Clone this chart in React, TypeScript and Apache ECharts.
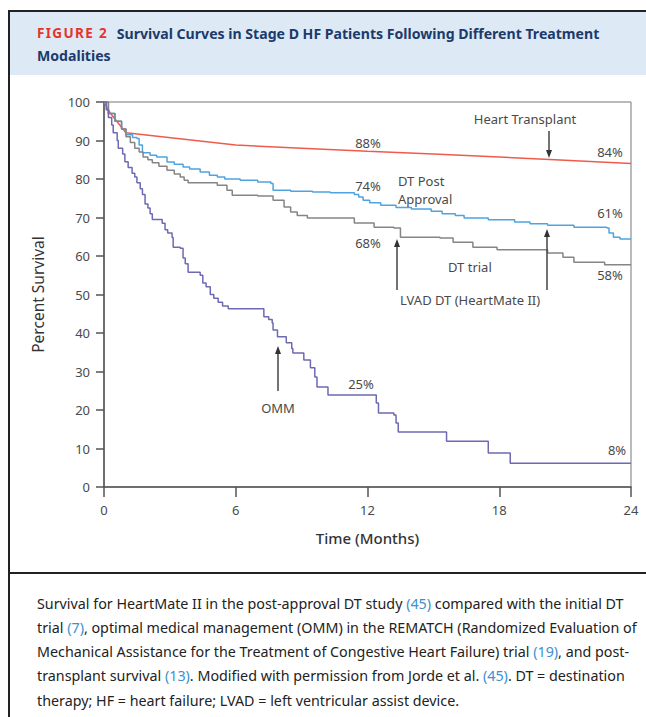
import React, { useEffect, useRef } from "react";
import * as echarts from "echarts";

// ---- Data (months, percent survival); step curves: value holds from its time until the next point ----
const xTicks = [0, 6, 12, 18, 24];
const yTicks = [0, 10, 20, 30, 40, 50, 60, 70, 80, 90, 100];

const heartTransplant: [number, number][] = [
  [0, 100], [0.3, 97], [1, 92], [6, 88.8], [9, 88], [12, 87.2], [15, 86.5], [18, 85.7], [21, 84.9], [24, 84],
];

const dtPostApproval: [number, number][] = [
  [0, 100], [0.2, 97], [0.5, 95], [0.8, 93], [1.0, 91.5], [1.3, 90.8], [1.5, 90.5], [1.6, 88.8], [1.75, 86.8],
  [2.1, 86.2], [2.4, 85.7], [2.87, 84.4], [3.2, 83.8], [3.6, 83.1], [3.9, 82.6], [4.38, 81.8], [4.8, 81],
  [5.16, 80.5], [5.5, 80], [6.2, 79.7], [7.0, 79.2], [7.6, 78.8], [7.7, 77.1], [8.5, 76.8], [9.5, 76.6],
  [10.3, 76.4], [11.4, 76], [11.6, 75.3], [11.8, 74.5], [12.1, 73.8], [12.6, 73.2], [13.3, 72.6], [14.0, 72.2],
  [14.9, 71.6], [15.4, 71], [16, 70.5], [16.4, 69.9], [17.5, 69.4], [18.7, 68.8], [19.4, 68.4], [20.2, 68],
  [21.4, 67.5], [22.9, 67.3], [23.0, 66], [23.2, 64.9], [23.5, 64.4], [24, 64.4],
];

const dtTrial: [number, number][] = [
  [0, 100], [0.2, 97], [0.5, 95], [0.8, 93], [1.0, 91], [1.2, 89.5], [1.4, 88], [1.6, 87], [1.78, 85.7],
  [2.0, 85], [2.2, 84.2], [2.5, 83.3], [2.87, 82.3], [3.2, 81.3], [3.47, 80.5], [3.65, 79.7], [3.83, 79],
  [5.16, 78.4], [5.6, 77.1], [5.84, 75.8], [7.0, 75.6], [7.7, 74.5], [8.2, 72.7], [8.5, 71.4], [8.8, 70.5],
  [9.26, 69.9], [11.4, 68.6], [12.3, 67.5], [13.2, 67.3], [13.5, 64.9], [15.3, 64.7], [15.9, 63.6],
  [16.8, 62.3], [17.9, 61.6], [20.2, 60.8], [20.9, 59.7], [21.4, 58.4], [22.8, 57.7], [24, 57.7],
];

const omm: [number, number][] = [
  [0, 100], [0.1, 98], [0.2, 96], [0.35, 94], [0.42, 92], [0.6, 90], [0.65, 88], [0.85, 86.5], [0.95, 84.5],
  [1.1, 83], [1.28, 81.5], [1.4, 80.5], [1.5, 79], [1.65, 77.5], [1.75, 76], [1.87, 73.5], [2.0, 72.5],
  [2.1, 71], [2.2, 69.5], [2.65, 68.5], [2.78, 66.8], [2.9, 66], [3.1, 64.8], [3.15, 62.3], [3.47, 62],
  [3.6, 59.5], [3.7, 58], [3.83, 55.8], [4.38, 55], [4.5, 53], [4.65, 52], [4.84, 50], [5.0, 49], [5.2, 48],
  [5.4, 47], [5.66, 46.3], [7.28, 44.2], [7.5, 43.5], [7.66, 42.6], [7.7, 40.8], [7.9, 39], [8.3, 37.5],
  [8.55, 36], [8.6, 34.8], [9.1, 33], [9.4, 31], [9.6, 28.6], [9.7, 26], [10.2, 23.9], [12.4, 21.8],
  [12.5, 19.2], [13.2, 18.7], [13.3, 16.6], [13.4, 14.3], [15.6, 11.9], [17.5, 8.8], [18.5, 6.2], [24, 6.2],
];

const seriesNames = ["Heart Transplant", "DT Post Approval", "DT trial", "OMM"];

const captionLines: string[] = [
  "Survival for HeartMate II in the post-approval DT study {r|(45)} compared with the initial DT",
  "trial {r|(7)}, optimal medical management (OMM) in the REMATCH (Randomized Evaluation of",
  "Mechanical Assistance for the Treatment of Congestive Heart Failure) trial {r|(19)}, and post-",
  "transplant survival {r|(13)}. Modified with permission from Jorde et al. {r|(45)}. DT = destination",
  "therapy; HF = heart failure; LVAD = left ventricular assist device.",
];

const FONT = "'Noto Sans', 'Open Sans', sans-serif";
const LABEL = "#4a4a4a";
const HS = "\u200A";

function txt(text: string, x: number, y: number, align: string = "center", size = 13) {
  return {
    type: "text",
    x,
    y,
    z: 10,
    style: { text, fill: LABEL, fontSize: size, fontFamily: FONT, align, verticalAlign: "middle" },
  };
}

function arrow(x: number, y1: number, y2: number) {
  const dir = y2 > y1 ? 1 : -1;
  return [
    { type: "line", z: 10, shape: { x1: x, y1, x2: x, y2: y2 - dir * 6 }, style: { stroke: "#444", lineWidth: 1.5 } },
    {
      type: "polygon",
      z: 10,
      shape: { points: [[x - 3, y2 - dir * 8], [x + 3, y2 - dir * 8], [x, y2]] },
      style: { fill: "#333" },
    },
  ];
}

export default function App() {
  const ref = useRef<HTMLDivElement>(null);
  useEffect(() => {
    if (!ref.current) return;
    const chart = echarts.init(ref.current, undefined, { renderer: "svg" });
    const lineSeries = (name: string, data: [number, number][], color: string, step: any) => ({
      name,
      type: "line",
      data,
      step,
      symbol: "none",
      lineStyle: { color, width: 1.5 },
      z: 3,
    });
    chart.setOption({
      animation: false,
      backgroundColor: "#ffffff",
      grid: { left: 104, top: 102, right: 15, bottom: 230, show: true, borderColor: "#777", borderWidth: 1 },
      xAxis: {
        type: "value",
        min: 0,
        max: 24,
        interval: 6,
        name: "Time (Months)",
        nameLocation: "middle",
        nameGap: 43,
        nameTextStyle: { fontSize: 15, color: "#333", fontFamily: FONT, fontWeight: 500 },
        axisLine: { show: true, lineStyle: { color: "#555", width: 1.5 } },
        axisTick: { show: true, length: 10, lineStyle: { color: "#555", width: 1.5 } },
        axisLabel: { fontSize: 13, color: LABEL, fontFamily: FONT, margin: 16, formatter: (v: number) => (xTicks.includes(v) ? String(v) : "") },
        splitLine: { show: false },
      },
      yAxis: {
        type: "value",
        min: 0,
        max: 100,
        interval: 10,
        name: "Percent Survival",
        nameLocation: "middle",
        nameGap: 58,
        nameTextStyle: { fontSize: 15.5, color: "#333", fontFamily: FONT },
        axisLine: { show: true, lineStyle: { color: "#555", width: 1.5 } },
        axisTick: { show: true, length: 8, lineStyle: { color: "#555", width: 1.5 } },
        axisLabel: { fontSize: 13, color: LABEL, fontFamily: FONT, margin: 14, formatter: (v: number) => (yTicks.includes(v) ? String(v) : "") },
        splitLine: { show: false },
      },
      series: [
        lineSeries(seriesNames[0], heartTransplant, "#ef5b4b", false),
        lineSeries(seriesNames[1], dtPostApproval, "#4ea4e0", "end"),
        lineSeries(seriesNames[2], dtTrial, "#858585", "end"),
        lineSeries(seriesNames[3], omm, "#6d69b3", "end"),
      ],
      graphic: [
        { type: "rect", z: 0, shape: { x: 10, y: 12, width: 640, height: 63 }, style: { fill: "#dde9f5" } },
        { type: "line", z: 5, shape: { x1: 9, y1: 11, x2: 646, y2: 11 }, style: { stroke: "#222", lineWidth: 2 } },
        { type: "line", z: 5, shape: { x1: 9, y1: 10, x2: 9, y2: 717 }, style: { stroke: "#222", lineWidth: 2 } },
        { type: "line", z: 5, shape: { x1: 9, y1: 573, x2: 646, y2: 573 }, style: { stroke: "#222", lineWidth: 2 } },
        {
          type: "text",
          x: 37,
          y: 33,
          style: {
            text: `{f|${"FIGURE".split("").join(HS)}${HS}${HS} 2}   {t|Survival Curves in Stage D HF Patients Following Different Treatment}`,
            verticalAlign: "middle",
            rich: {
              f: { fontSize: 13.5, fontWeight: "bold", fill: "#e5342a", color: "#e5342a", fontFamily: FONT },
              t: { fontSize: 14.1, fontWeight: "bold", fill: "#1c3a6a", color: "#1c3a6a", fontFamily: FONT },
            },
          },
        },
        {
          type: "text",
          x: 37,
          y: 55,
          style: { text: "Modalities", fontSize: 14.1, fontWeight: "bold", fill: "#1c3a6a", fontFamily: FONT, verticalAlign: "middle" },
        },
        txt("Heart Transplant", 525, 119),
        ...arrow(549, 131, 158),
        txt("84%", 610, 152),
        txt("88%", 368, 143),
        txt("74%", 368, 186),
        txt("DT Post", 398, 181, "left"),
        txt("Approval", 398, 199, "left"),
        txt("68%", 368, 243),
        ...arrow(397, 290, 239),
        txt("LVAD DT (HeartMate II)", 400, 300, "left"),
        txt("DT trial", 448, 267, "left"),
        ...arrow(547, 290, 229),
        txt("61%", 610, 213),
        txt("58%", 610, 275),
        txt("OMM", 278, 408),
        ...arrow(278, 391, 346),
        txt("25%", 361, 384),
        txt("8%", 617, 450),
        ...captionLines.map((line, i) => ({
          type: "text",
          x: 37,
          y: 603 + i * 24.3,
          style: {
            text: line,
            fontSize: 14.3,
            fill: "#222",
            fontFamily: FONT,
            verticalAlign: "middle",
            rich: { r: { fontSize: 14.3, fill: "#3d8fd1", color: "#3d8fd1", fontFamily: FONT } },
          },
        })),
      ],
    });
    return () => chart.dispose();
  }, []);
  return <div ref={ref} style={{ position: "fixed", left: 0, top: 0, width: 646, height: 717 }} />;
}
